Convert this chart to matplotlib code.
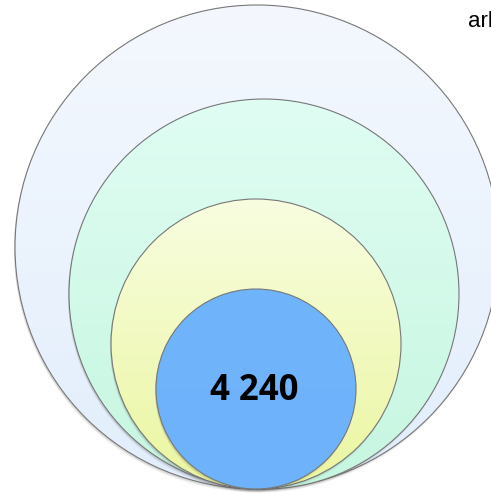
import numpy as np
import matplotlib
matplotlib.use("Agg")
import matplotlib.pyplot as plt
from matplotlib.patches import Circle
from matplotlib.colors import LinearSegmentedColormap

# nested circles, largest first (pixel-ish units)
radii = [242, 195, 145, 100]
centers_x = [257, 264, 256, 256]
top_colors = ["#f4f8fe", "#e0fdf3", "#f8fde0", "#70b4fc"]
bottom_colors = ["#e2eefc", "#c6f6e0", "#ebf6a0", "#6eb2fb"]
center_label = "4 240"
corner_label = "arb"

W, H = 491, 493
base_y = 489

fig = plt.figure(figsize=(W / 100, H / 100), dpi=100)
ax = fig.add_axes([0, 0, 1, 1])
ax.set_xlim(0, W)
ax.set_ylim(H, 0)
ax.set_aspect("equal")
ax.axis("off")

grad = np.linspace(0, 1, 256).reshape(-1, 1)

for i, (r, cx) in enumerate(zip(radii, centers_x)):
    cy = base_y - r
    # soft shadow under each circle
    for k, a in zip([3.5, 2.5, 1.5], [0.05, 0.08, 0.12]):
        ax.add_patch(Circle((cx - 1, cy + k), r, facecolor="#555555",
                            edgecolor="none", alpha=a, zorder=2 * i))
    cmap = LinearSegmentedColormap.from_list(f"c{i}", [top_colors[i], bottom_colors[i]])
    im = ax.imshow(grad, cmap=cmap, extent=(cx - r, cx + r, cy + r, cy - r),
                   aspect="auto", zorder=2 * i + 1, interpolation="bilinear")
    clip = Circle((cx, cy), r, transform=ax.transData)
    im.set_clip_path(clip)
    ax.add_patch(Circle((cx, cy), r, facecolor="none", edgecolor="#777777",
                        linewidth=0.8, zorder=2 * i + 1.5))

ax.text(centers_x[-1] - 2, base_y - radii[-1] + 2, center_label, ha="center", va="center",
        fontsize=25, fontweight="bold", family=["Open Sans", "DejaVu Sans"], zorder=20)
ax.text(468, 27, corner_label, ha="left", va="baseline", fontsize=16,
        family=["Liberation Sans", "DejaVu Sans"], zorder=20)

fig.savefig("out.png", dpi=100)
